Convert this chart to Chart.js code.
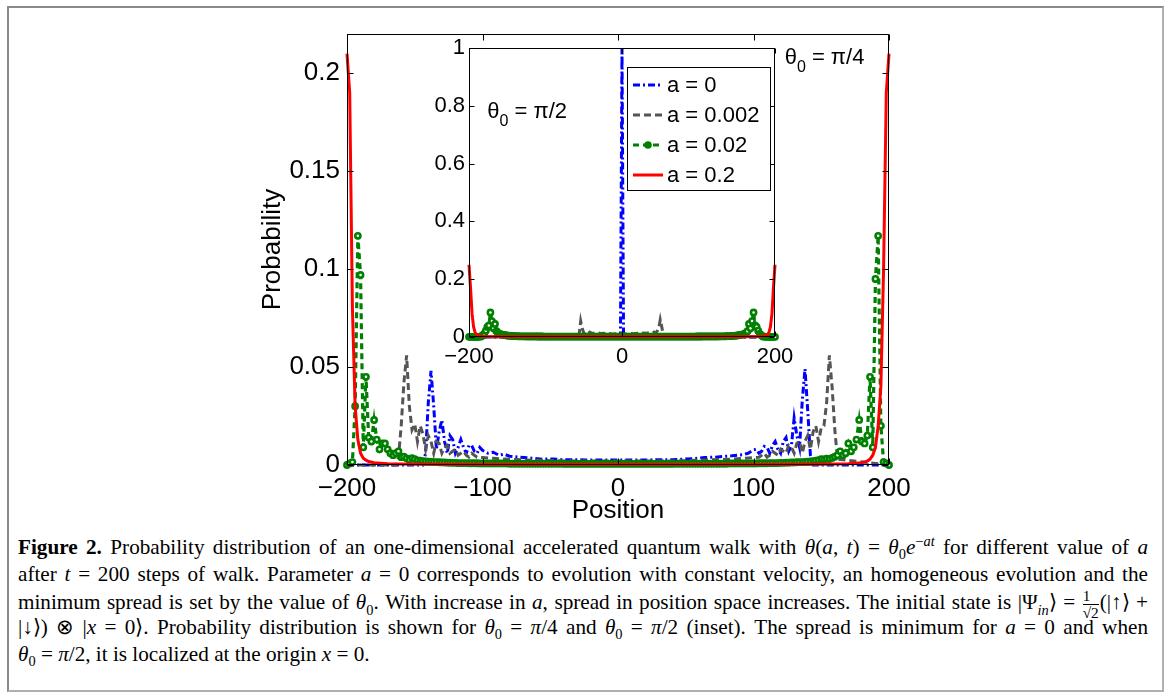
<!DOCTYPE html>
<html>
<head>
<meta charset="utf-8">
<script src="https://cdn.jsdelivr.net/npm/chart.js@4.4.1/dist/chart.umd.min.js"></script>
<style>
  body { margin: 0; background: #fff; }
  #page { position: relative; width: 1170px; height: 698px; overflow: hidden; }
  #frame { position: absolute; left: 7px; top: 6px; width: 1153px; height: 682px; border: 2px solid #8a8a8a; border-right-color: #b0b0b0; border-bottom-color: #b0b0b0; }
  #main { position: absolute; left: 0; top: 0; }
  #inset { position: absolute; left: 400px; top: 30px; }
  #cap { position: absolute; left: 18px; top: 534px; width: 1130px; font-family: "Liberation Serif", serif; font-size: 21.2px; line-height: 26.8px; color: #000; }
  #cap .ln { height: 26.8px; white-space: nowrap; text-align: justify; text-align-last: justify; }
  #cap .ln.last { text-align-last: left; }
  #cap sub, #cap sup { font-size: 68%; line-height: 0; }
  .frac { display: inline-block; vertical-align: middle; text-align: center; font-size: 72%; line-height: 1.05; margin: 0 1px; }
  .frac span { display: block; }
  .frac span + span { border-top: 1px solid #000; }
</style>
</head>
<body>
<div id="page">
  <div id="frame"></div>
  <canvas id="main" width="1170" height="530"></canvas>
  <canvas id="inset" width="420" height="350"></canvas>
  <div id="cap">
    <div class="ln"><b>Figure 2.</b> Probability distribution of an one-dimensional accelerated quantum walk with <i>θ</i>(<i>a</i>, <i>t</i>) = <i>θ</i><sub>0</sub><i>e</i><sup>−<i>at</i></sup> for different value of <i>a</i></div>
    <div class="ln">after <i>t</i> = 200 steps of walk. Parameter <i>a</i> = 0 corresponds to evolution with constant velocity, an homogeneous evolution and the</div>
    <div class="ln">minimum spread is set by the value of <i>θ</i><sub>0</sub>. With increase in <i>a</i>, spread in position space increases. The initial state is |Ψ<sub><i>in</i></sub>⟩ = <span class="frac"><span>1</span><span>√2</span></span>(|↑⟩ +</div>
    <div class="ln">|↓⟩) ⊗ |<i>x</i> = 0⟩. Probability distribution is shown for <i>θ</i><sub>0</sub> = <i>π</i>/4 and <i>θ</i><sub>0</sub> = <i>π</i>/2 (inset). The spread is minimum for <i>a</i> = 0 and when</div>
    <div class="ln last"><i>θ</i><sub>0</sub> = <i>π</i>/2, it is localized at the origin <i>x</i> = 0.</div>
  </div>
</div>
<script>
// legend labels
var labels = ['a = 0', 'a = 0.002', 'a = 0.02', 'a = 0.2'];

// ---- main panel, theta0 = pi/4 ----
var posA0 = [-200,-144,-142,-140,-138,-136,-134,-132,-130,-128,-126,-124,-122,-120,-118,-116,-114,-112,-110,-108,-106,-104,-102,-100,-96,-92,-88,-84,-80,-72,-64,-56,-48,-40,-32,-24,-16,-8,0,
             8,16,24,32,40,48,56,64,72,80,84,88,92,96,100,102,104,106,108,110,112,114,116,118,120,122,124,126,128,130,132,134,136,138,140,142,144,200];
var probA0 = [0,0,0.006,0.032,0.048,0.03,0.008,0.017,0.023,0.012,0.006,0.015,0.013,0.006,0.009,0.013,0.009,0.006,0.01,0.01,0.007,0.006,0.009,0.0075,0.006,0.0065,0.005,0.0055,0.0045,0.004,0.0035,0.003,0.003,0.0027,0.0027,0.0026,0.0026,0.0026,0.0026,
              0.0026,0.0026,0.0026,0.0027,0.0027,0.003,0.0032,0.0038,0.004,0.0045,0.0047,0.005,0.0052,0.006,0.0077,0.008,0.006,0.007,0.0095,0.009,0.006,0.01,0.012,0.008,0.006,0.012,0.014,0.007,0.01,0.024,0.015,0.009,0.033,0.049,0.028,0.005,0,0];

var posA002 = [-200,-164,-162,-160,-158,-156,-154,-152,-150,-148,-146,-144,-142,-140,-138,-136,-134,-132,-130,-128,-126,-124,-122,-120,-118,-116,-114,-112,-110,-108,-106,-104,-100,-92,-84,-76,-68,-60,-48,-36,-24,-12,0,
               12,24,36,48,60,68,76,84,92,100,104,106,108,110,112,114,116,118,120,122,124,126,128,130,132,134,136,138,140,142,144,146,148,150,152,154,156,158,160,162,200];
var probA002 = [0,0,0.004,0.02,0.042,0.056,0.03,0.018,0.021,0.012,0.02,0.016,0.008,0.015,0.012,0.006,0.012,0.011,0.006,0.009,0.01,0.006,0.007,0.008,0.005,0.006,0.007,0.005,0.004,0.006,0.005,0.004,0.0038,0.0034,0.003,0.0028,0.0026,0.0024,0.0022,0.002,0.002,0.002,0.002,
                0.002,0.002,0.002,0.0022,0.0024,0.0026,0.0028,0.003,0.0034,0.0038,0.004,0.005,0.006,0.004,0.005,0.007,0.006,0.005,0.008,0.007,0.006,0.01,0.009,0.006,0.011,0.012,0.006,0.012,0.015,0.008,0.017,0.02,0.012,0.019,0.02,0.032,0.056,0.04,0.018,0.003,0];

var posStep2 = [];
for (var p = -200; p <= 200; p += 2) posStep2.push(p);
var probA02 = [
  0,0.0008,0.0015,0.03,0.117,0.097,0.009,0.045,0.014,0.012,
  0.023,0.013,0.008,0.011,0.011,0.008,0.006,0.005,0.006,0.007,
  0.004,0.0042,0.0034,0.0026,0.0035,0.003,0.0024,0.0022,0.002,0.0018,
  0.0017,0.0016,0.0015,0.0015,0.0014,0.0013,0.0013,0.0012,0.0012,0.0011,
  0.0011,0.001,0.001,0.001,0.001,0.0009,0.0009,0.0009,0.0009,0.0008,
  0.0008,0.0008,0.0008,0.0008,0.0008,0.0008,0.0008,0.0008,0.0008,0.0008,
  0.0007,0.0007,0.0007,0.0007,0.0007,0.0007,0.0007,0.0007,0.0007,0.0007,
  0.0007,0.0007,0.0007,0.0007,0.0007,0.0007,0.0007,0.0007,0.0007,0.0007,
  0.0006,0.0006,0.0006,0.0006,0.0006,0.0006,0.0006,0.0006,0.0006,0.0006,
  0.0006,0.0006,0.0006,0.0006,0.0006,0.0006,0.0006,0.0006,0.0006,0.0006,
  0.0006,
  0.0006,0.0006,0.0006,0.0006,0.0006,0.0006,0.0006,0.0006,0.0006,0.0006,
  0.0006,0.0006,0.0006,0.0006,0.0006,0.0006,0.0006,0.0006,0.0006,0.0006,
  0.0007,0.0007,0.0007,0.0007,0.0007,0.0007,0.0007,0.0007,0.0007,0.0007,
  0.0007,0.0007,0.0007,0.0007,0.0007,0.0007,0.0007,0.0007,0.0007,0.0007,
  0.0008,0.0008,0.0008,0.0008,0.0008,0.0008,0.0008,0.0008,0.0008,0.0008,
  0.0008,0.0009,0.0009,0.0009,0.0009,0.001,0.001,0.001,0.001,0.0011,
  0.0011,0.0012,0.0012,0.0013,0.0013,0.0014,0.0015,0.0015,0.0016,0.0017,
  0.0018,0.002,0.0022,0.0025,0.003,0.0028,0.0032,0.003,0.0036,0.0042,
  0.005,0.007,0.005,0.006,0.011,0.007,0.009,0.013,0.023,0.012,
  0.011,0.015,0.045,0.009,0.095,0.117,0.02,0.0015,0.0008,0
];

var posA2 = [-200,-198,-196,-194,-192,-190,-188,-186,-184,-180,-170,-150,-100,0,100,150,170,180,184,186,188,190,192,194,196,198,200];
var probA2 = [0.21,0.19,0.08,0.03,0.013,0.006,0.0035,0.0025,0.0018,0.0012,0.0007,0.0004,0.0003,0.0003,0.0003,0.0004,0.0007,0.0012,0.002,0.003,0.005,0.009,0.02,0.04,0.1,0.19,0.21];

// ---- inset, theta0 = pi/2 ----
var posIn0 = [-200,-2,0,2,200];
var probIn0 = [0,0,1,0,0];

var posIn002 = [-200,-58,-56,-54,-52,-50,-48,-46,-44,-42,-40,-36,-32,-28,-24,-20,-16,-12,-8,-4,0,4,8,12,16,20,24,28,32,36,40,42,44,46,48,50,52,54,56,200];
var probIn002 = [0,0,0.01,0.055,0.03,0.014,0.02,0.016,0.013,0.017,0.014,0.013,0.015,0.012,0.013,0.011,0.012,0.01,0.011,0.01,0.011,0.01,0.011,0.012,0.011,0.013,0.012,0.014,0.013,0.015,0.014,0.017,0.014,0.02,0.03,0.06,0.035,0.006,0,0];

var probInA02 = [
  0.0005,0.0005,0.0005,0.0005,0.0005,0.0005,0.0006,0.001,0.002,0.006,
  0.012,0.022,0.035,0.04,0.085,0.055,0.03,0.045,0.02,0.014,
  0.011,0.009,0.008,0.007,0.006,0.005,0.0045,0.004,0.0035,0.003,
  0.003,0.0028,0.0026,0.0025,0.0024,0.0023,0.0022,0.0021,0.002,0.002,
  0.002,0.002,0.002,0.0019,0.0019,0.0018,0.0018,0.0017,0.0017,0.0016,
  0.0016,0.0016,0.0015,0.0015,0.0015,0.0015,0.0015,0.0015,0.0015,0.0015,
  0.0015,0.0015,0.0015,0.0015,0.0015,0.0015,0.0015,0.0015,0.0015,0.0015,
  0.0015,0.0015,0.0015,0.0015,0.0015,0.0015,0.0015,0.0015,0.0015,0.0015,
  0.0015,0.0015,0.0015,0.0015,0.0015,0.0015,0.0015,0.0015,0.0015,0.0015,
  0.0015,0.0015,0.0015,0.0015,0.0015,0.0015,0.0015,0.0015,0.0015,0.0015,
  0.0015,
  0.0015,0.0015,0.0015,0.0015,0.0015,0.0015,0.0015,0.0015,0.0015,0.0015,
  0.0015,0.0015,0.0015,0.0015,0.0015,0.0015,0.0015,0.0015,0.0015,0.0015,
  0.0015,0.0015,0.0015,0.0015,0.0015,0.0015,0.0015,0.0015,0.0015,0.0015,
  0.0015,0.0015,0.0015,0.0015,0.0015,0.0015,0.0015,0.0015,0.0015,0.0015,
  0.0015,0.0015,0.0015,0.0015,0.0015,0.0016,0.0016,0.0016,0.0017,0.0017,
  0.0018,0.0018,0.0019,0.0019,0.002,0.002,0.002,0.002,0.002,0.002,
  0.002,0.002,0.0021,0.0022,0.0023,0.0024,0.0025,0.0026,0.0028,0.003,
  0.003,0.0035,0.004,0.0045,0.005,0.006,0.007,0.008,0.009,0.011,
  0.014,0.02,0.045,0.03,0.055,0.085,0.04,0.035,0.022,0.012,
  0.006,0.002,0.001,0.0006,0.0005,0.0005,0.0005,0.0005,0.0005,0.0005
];

var posIn2 = [-200,-198,-196,-194,-192,-190,-188,-186,-180,-160,-100,0,100,160,180,186,188,190,192,194,196,198,200];
var probIn2 = [0.25,0.17,0.08,0.035,0.015,0.008,0.005,0.003,0.0015,0.0008,0.0005,0.0005,0.0005,0.0008,0.0015,0.003,0.005,0.008,0.015,0.035,0.08,0.17,0.25];

function pts(xs, ys) {
  return xs.map(function(x, i) { return { x: x, y: ys[i] }; });
}

function makeSets(a0, a002, a02, a2) {
  return [{
    label: labels[0], data: a0, order: 3,
    borderColor: '#0000ff', borderWidth: 3, borderDash: [7, 3, 2, 3], pointRadius: 0
  }, {
    label: labels[1], data: a002, order: 2,
    borderColor: '#555555', borderWidth: 3, borderDash: [7, 4], pointRadius: 0
  }, {
    label: labels[2], data: a02, order: 1,
    borderColor: '#008000', borderWidth: 3.2, borderDash: [6, 4],
    pointRadius: 2.6, pointBorderWidth: 2.6, pointBorderColor: '#008000', pointBackgroundColor: '#ffffff'
  }, {
    label: labels[3], data: a2, order: 0,
    borderColor: '#ff0000', borderWidth: 3, pointRadius: 0
  }];
}

var sans = 'Liberation Sans, Arial, sans-serif';
function minus(v) { return String(v).replace('-', '\u2212'); }
function shortNum(v) { return String(Math.round(v * 1000) / 1000); }

// box round the axes with inward ticks on all four sides
var boxTicks = {
  id: 'boxTicks',
  beforeDatasetsDraw: function(chart, args, opts) {
    var a = chart.chartArea;
    if (opts.fill) {
      chart.ctx.save();
      chart.ctx.fillStyle = '#fff';
      chart.ctx.fillRect(a.left, a.top, a.right - a.left, a.bottom - a.top);
      chart.ctx.restore();
    }
  },
  afterDraw: function(chart, args, opts) {
    var ctx = chart.ctx, a = chart.chartArea, len = opts.len;
    var L = Math.round(a.left) + 0.5, R = Math.round(a.right) - 0.5;
    var T = Math.round(a.top) + 0.5, B = Math.round(a.bottom) - 0.5;
    ctx.save();
    ctx.strokeStyle = '#000';
    ctx.lineWidth = 1;
    ctx.strokeRect(L, T, R - L, B - T);
    ctx.beginPath();
    chart.scales.x.ticks.forEach(function(t) {
      var px = Math.round(chart.scales.x.getPixelForValue(t.value)) + 0.5;
      ctx.moveTo(px, B); ctx.lineTo(px, B - len);
      ctx.moveTo(px, T); ctx.lineTo(px, T + len);
    });
    chart.scales.y.ticks.forEach(function(t) {
      var py = Math.round(chart.scales.y.getPixelForValue(t.value)) + 0.5;
      ctx.moveTo(L, py); ctx.lineTo(L + len, py);
      ctx.moveTo(R, py); ctx.lineTo(R - len, py);
    });
    ctx.stroke();
    ctx.restore();
  }
};

// theta_0 annotation, anchored in data coordinates
var thetaNote = {
  id: 'thetaNote',
  afterDraw: function(chart, args, opts) {
    var ctx = chart.ctx;
    var x = chart.scales.x.getPixelForValue(opts.x);
    var y = chart.scales.y.getPixelForValue(opts.y);
    ctx.save();
    ctx.fillStyle = '#000';
    ctx.textBaseline = 'alphabetic';
    ctx.font = '22px ' + sans;
    ctx.fillText('\u03b8', x, y);
    x += ctx.measureText('\u03b8').width;
    ctx.font = '16px ' + sans;
    ctx.fillText('0', x, y + 8);
    x += ctx.measureText('0').width;
    ctx.font = '22px ' + sans;
    ctx.fillText(' = ' + opts.text, x, y);
    ctx.restore();
  }
};

// legend box drawn inside the inset
var insetLegend = {
  id: 'insetLegend',
  afterDraw: function(chart) {
    var ctx = chart.ctx, a = chart.chartArea;
    var x0 = a.right - 148, y0 = a.top + 19, w = 143, h = 123;
    ctx.save();
    ctx.fillStyle = '#fff';
    ctx.fillRect(x0, y0, w, h);
    ctx.strokeStyle = '#000';
    ctx.lineWidth = 1;
    ctx.strokeRect(Math.round(x0) + 0.5, Math.round(y0) + 0.5, w, h);
    ctx.font = '22px ' + sans;
    ctx.textBaseline = 'middle';
    chart.data.datasets.forEach(function(ds, i) {
      var cy = y0 + 18 + i * 30;
      ctx.strokeStyle = ds.borderColor;
      ctx.lineWidth = ds.borderWidth;
      ctx.setLineDash(ds.borderDash || []);
      ctx.beginPath();
      ctx.moveTo(x0 + 6, cy); ctx.lineTo(x0 + 36, cy);
      ctx.stroke();
      ctx.setLineDash([]);
      if (ds.pointRadius) {
        ctx.beginPath();
        ctx.arc(x0 + 21, cy, 3.8, 0, Math.PI * 2);
        ctx.fillStyle = ds.pointBorderColor;
        ctx.fill();
      }
      ctx.fillStyle = '#000';
      ctx.fillText(ds.label, x0 + 40, cy + 1);
    });
    ctx.restore();
  }
};

new Chart(document.getElementById('main'), {
  type: 'line',
  data: { datasets: makeSets(pts(posA0, probA0), pts(posA002, probA002), pts(posStep2, probA02), pts(posA2, probA2)) },
  options: {
    responsive: false,
    animation: false,
    clip: false,
    elements: { line: { tension: 0 } },
    layout: { padding: { left: 257, right: 281, top: 34, bottom: 4 } },
    plugins: {
      legend: { display: false },
      tooltip: { enabled: false },
      boxTicks: { len: 6, fill: false },
      thetaNote: { x: 123, y: 0.2046, text: '\u03c0/4' }
    },
    scales: {
      x: {
        type: 'linear', min: -200, max: 200,
        ticks: { stepSize: 100, color: '#000', font: { family: sans, size: 26 }, padding: 8, maxRotation: 0, callback: minus },
        grid: { display: false, drawTicks: false },
        border: { display: false },
        title: { display: true, text: 'Position', color: '#000', font: { family: sans, size: 26 }, padding: 0 },
        afterFit: function(s) { s.height = 61; }
      },
      y: {
        min: 0, max: 0.22,
        ticks: { stepSize: 0.05, includeBounds: false, color: '#000', font: { family: sans, size: 26 }, padding: 7, callback: shortNum },
        grid: { display: false, drawTicks: false },
        border: { display: false },
        title: { display: true, text: 'Probability', color: '#000', font: { family: sans, size: 26 }, padding: 0 },
        afterFit: function(s) { s.width = 90; }
      }
    }
  },
  plugins: [boxTicks, thetaNote]
});

new Chart(document.getElementById('inset'), {
  type: 'line',
  data: { datasets: makeSets(pts(posIn0, probIn0), pts(posIn002, probIn002), pts(posStep2, probInA02), pts(posIn2, probIn2)) },
  options: {
    responsive: false,
    animation: false,
    clip: false,
    elements: { line: { tension: 0 } },
    layout: { padding: { left: 19, right: 45, top: 18, bottom: 13 } },
    plugins: {
      legend: { display: false },
      tooltip: { enabled: false },
      boxTicks: { len: 5, fill: true },
      thetaNote: { x: -176, y: 0.757, text: '\u03c0/2' }
    },
    scales: {
      x: {
        type: 'linear', min: -200, max: 200,
        ticks: { stepSize: 200, color: '#000', font: { family: sans, size: 22 }, padding: 7, maxRotation: 0, callback: minus },
        grid: { display: false, drawTicks: false },
        border: { display: false },
        afterFit: function(s) { s.height = 30; }
      },
      y: {
        min: 0, max: 1,
        ticks: { stepSize: 0.2, color: '#000', font: { family: sans, size: 22 }, padding: 4, callback: shortNum },
        grid: { display: false, drawTicks: false },
        border: { display: false },
        afterFit: function(s) { s.width = 50; }
      }
    }
  },
  plugins: [boxTicks, thetaNote, insetLegend]
});
</script>
</body>
</html>
